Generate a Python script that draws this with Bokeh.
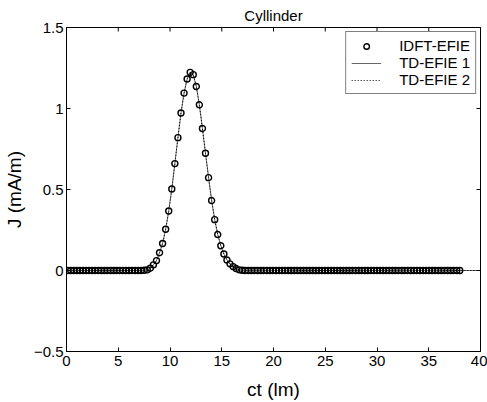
import math
from bokeh.plotting import figure
from bokeh.models import Range1d, FixedTicker, Legend, LegendItem
from bokeh.embed import file_html
from bokeh.resources import INLINE

# ---- data ----
idft_t = [round(0.11 + 0.296 * k, 3) for k in range(129)]   # sampling grid of the markers
idft_J = ([0.0] * 25 +
          [0.002, 0.004, 0.014, 0.035, 0.061, 0.110, 0.167, 0.255, 0.367, 0.503,
           0.660, 0.820, 0.972, 1.095, 1.182, 1.223, 1.209, 1.136, 1.023, 0.877,
           0.724, 0.573, 0.432, 0.314, 0.222, 0.153, 0.102, 0.065, 0.041, 0.024,
           0.012, 0.004, 0.002] +
          [0.0] * 71)
td1_t = [0.0] + idft_t + [40.0]
td1_J = [0.0] + idft_J + [0.0]
td2_t = [0.0] + idft_t + [40.0]
td2_J = [0.0] + idft_J + [0.0]

x_ticks = [0, 5, 10, 15, 20, 25, 30, 35, 40]
y_ticks = [-0.5, 0, 0.5, 1, 1.5]
x_min, x_max = 0, 40
y_min, y_max = -0.5, 1.5
title_text = "Cyllinder"

FONT = "Liberation Sans"

p = figure(width=487, height=402, x_range=Range1d(x_min, x_max), y_range=Range1d(y_min, y_max),
           output_backend="svg", toolbar_location=None, title=title_text,
           min_border_left=65, min_border_right=7, min_border_top=24, min_border_bottom=51)
p.background_fill_color = "white"
p.border_fill_color = "white"
p.outline_line_color = "black"
p.outline_line_width = 1
p.grid.visible = False

p.title.text_font = FONT
p.title.text_font_size = "15px"
p.title.text_font_style = "normal"
p.title.text_color = "black"
p.title.align = "center"
p.title.offset = 0
p.title.standoff = 8

for ax in (p.xaxis[0], p.yaxis[0]):
    ax.axis_line_color = "black"
    ax.major_tick_line_color = "black"
    ax.major_tick_in = 4
    ax.major_tick_out = 0
    ax.minor_tick_line_color = None
    ax.major_label_text_font = FONT
    ax.major_label_text_font_size = "15px"
    ax.major_label_text_color = "black"
    ax.axis_label_text_font = FONT
    ax.axis_label_text_font_style = "normal"
    ax.axis_label_text_font_size = "19px"
    ax.axis_label_text_color = "black"

xa = p.xaxis[0]
ya = p.yaxis[0]
xa.ticker = FixedTicker(ticks=x_ticks)
ya.ticker = FixedTicker(ticks=y_ticks)
xa.axis_label = "ct (lm)"
ya.axis_label = "J (mA/m)"
xa.major_label_standoff = 4
ya.major_label_standoff = 3
ya.axis_label_standoff = 6
xa.axis_label_standoff = 10

# inward ticks on the top and right edges of the box (clipped to the frame)
p.scatter(x_ticks, [y_max] * len(x_ticks), marker="dash", angle=math.pi / 2, size=8,
          line_color="black", line_width=1)
p.scatter([x_max] * len(y_ticks), y_ticks, marker="dash", size=8,
          line_color="black", line_width=1)

r_td1 = p.line(td1_t, td1_J, line_color="black", line_width=0.6)
r_td2 = p.line(td2_t, td2_J, line_color="black", line_width=1, line_dash="1 2")
r_idft = p.scatter(idft_t, idft_J, marker="circle", size=6, fill_color=None,
                   line_color="black", line_width=1.4)

legend = Legend(items=[LegendItem(label="IDFT-EFIE", renderers=[r_idft]),
                       LegendItem(label="TD-EFIE 1", renderers=[r_td1]),
                       LegendItem(label="TD-EFIE 2", renderers=[r_td2])],
                location="top_right")
legend.margin = 4
legend.padding = 5
legend.spacing = 0
legend.glyph_width = 30
legend.glyph_height = 14
legend.label_height = 14
legend.label_standoff = 18
legend.label_text_font = FONT
legend.label_text_font_size = "15px"
legend.label_text_line_height = 1.0
legend.label_text_color = "black"
legend.border_line_color = "black"
legend.border_line_width = 1
legend.background_fill_alpha = 1
p.add_layout(legend)

open("out.html", "w").write(file_html(p, INLINE))
